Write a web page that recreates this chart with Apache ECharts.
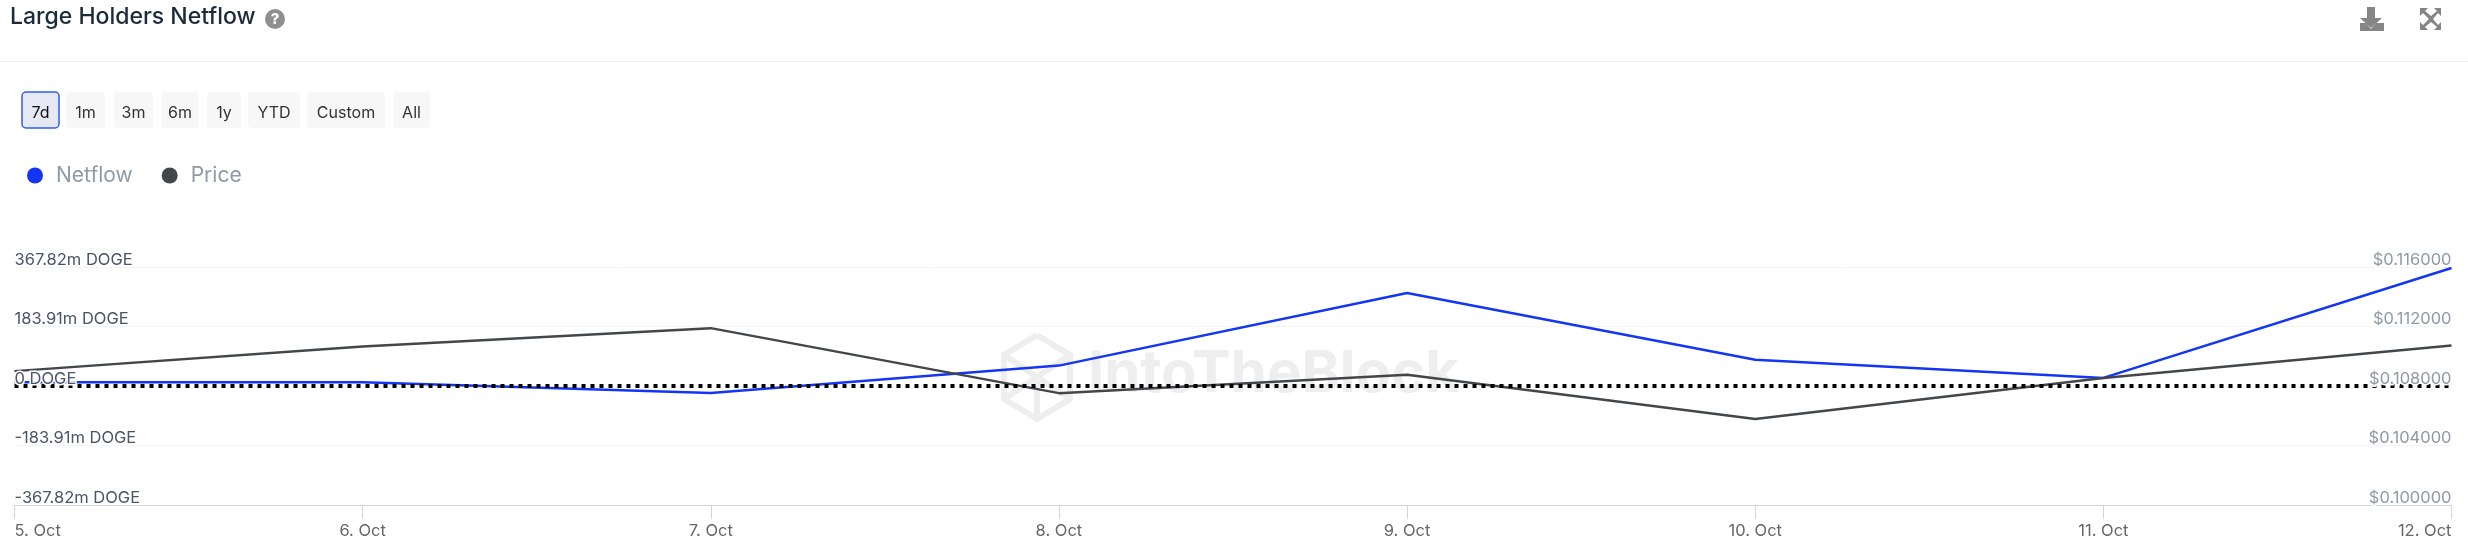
<!DOCTYPE html>
<html>
<head>
<meta charset="utf-8">
<title>Large Holders Netflow</title>
<script src="https://cdn.jsdelivr.net/npm/echarts@6/dist/echarts.min.js"></script>
<style>
	html, body { margin: 0; padding: 0; background: #fff; }
	#chart { width: 2468px; height: 544px; }
</style>
</head>
<body>
<div id="chart"></div>
<script>
	const days = ['5. Oct', '6. Oct', '7. Oct', '8. Oct', '9. Oct', '10. Oct', '11. Oct', '12. Oct'];
	// millions of DOGE
	const netflow = [11.7, 11.7, -21.6, 63, 287.6, 81, 25, 364.7];
	const price = [0.1090, 0.11065, 0.11189, 0.10752, 0.10875, 0.10578, 0.10853, 0.11072];
	const ranges = ['7d', '1m', '3m', '6m', '1y', 'YTD', 'Custom', 'All'];
	const rangeBoxes = [[22, 37], [66, 39], [114, 39], [161, 38], [207, 34], [248, 52], [307, 78], [393, 37]];
	const font = 'Inter, "Noto Sans", sans-serif';

	const chart = echarts.init(document.getElementById('chart'));

	function poly(points, fill) {
		return { type: 'polygon', shape: { points: points }, style: { fill: fill } };
	}
	function wmLine(points) {
		return { type: 'polyline', z: 1, shape: { points: points }, style: { fill: null, stroke: '#eeeeee', lineWidth: 6 } };
	}

	// header, range buttons, watermark
	const graphics = [
		{ type: 'text', x: 10, y: 6, style: { text: 'Large Holders Netflow', font: '500 23px ' + font, fill: '#1b2b3a' } },
		{ type: 'circle', shape: { cx: 275, cy: 19, r: 10 }, style: { fill: '#8f8f8f' } },
		{ type: 'text', x: 275, y: 19, style: { text: '?', font: '800 15px ' + font, fill: '#fff', align: 'center', verticalAlign: 'middle' } },
		{ type: 'line', shape: { x1: 0, y1: 61.5, x2: 2468, y2: 61.5 }, style: { stroke: '#eeeeee', lineWidth: 1 } },
		// download icon
		poly([[2367, 7], [2375, 7], [2375, 18], [2382, 18], [2371, 28], [2360, 18], [2367, 18]], '#858585'),
		poly([[2360, 23], [2366, 23], [2371, 29], [2376, 23], [2384, 23], [2384, 31], [2360, 31]], '#858585'),
		// expand icon
		poly([[2420, 8], [2428, 8], [2425, 11], [2431, 16], [2437, 11], [2434, 8], [2441, 8], [2441, 16], [2438, 13], [2433, 19], [2438, 25], [2441, 22], [2441, 30], [2434, 30], [2437, 27], [2431, 22], [2425, 27], [2428, 30], [2420, 30], [2420, 22], [2423, 25], [2429, 19], [2423, 13], [2420, 16]], '#858585'),
		// watermark
		wmLine([[1037, 335], [1070, 355], [1070, 399], [1037, 419], [1004, 399], [1004, 355], [1037, 335]]),
		wmLine([[1004, 355], [1037, 377], [1070, 355]]),
		wmLine([[1004, 399], [1037, 377], [1070, 399]]),
		wmLine([[1037, 377], [1037, 419]]),
		{ type: 'text', z: 1, x: 1088, y: 346, style: { text: 'IntoTheBlock', font: '700 58px ' + font, fill: '#eeeeee' } }
	];
	ranges.forEach(function(label, i) {
		const box = rangeBoxes[i];
		const active = i === 0;
		graphics.push({
			type: 'rect',
			shape: { x: box[0], y: 92, width: box[1], height: 36, r: 4 },
			style: { fill: active ? '#e6e9f4' : '#f7f7f7', stroke: active ? '#2f5cf5' : null, lineWidth: active ? 1.5 : 0 }
		});
		graphics.push({
			type: 'text',
			x: box[0] + box[1] / 2,
			y: 113,
			style: { text: label, font: '400 16px ' + font, fill: active ? '#111' : '#333', align: 'center', verticalAlign: 'middle' }
		});
	});

	chart.setOption({
		animation: false,
		backgroundColor: '#fff',
		textStyle: { fontFamily: font },
		legend: {
			left: 22,
			top: 160,
			icon: 'circle',
			itemWidth: 16,
			itemHeight: 16,
			itemGap: 29,
			selectedMode: false,
			textStyle: { color: '#8f9aa5', fontSize: 21, fontFamily: font, padding: [0, 0, 0, 8] },
			data: ['Netflow', 'Price']
		},
		grid: { left: 14.5, right: 16.5, top: 267, bottom: 39, containLabel: false },
		xAxis: {
			type: 'category',
			boundaryGap: false,
			data: days,
			axisLine: { onZero: false, lineStyle: { color: '#ccd6eb', width: 1 } },
			axisTick: { show: true, length: 14, alignWithLabel: true, lineStyle: { color: '#ccd6eb' } },
			axisLabel: {
				color: '#666',
				fontSize: 16.5,
				fontFamily: font,
				margin: 18,
				interval: 0,
				alignMinLabel: 'left',
				alignMaxLabel: 'right'
			}
		},
		yAxis: [
			{
				type: 'value',
				min: -367.82,
				max: 367.82,
				interval: 183.91,
				z: 5,
				axisLine: { show: false },
				axisTick: { show: false },
				splitLine: { show: false },
				axisLabel: {
					inside: true,
					color: '#4a5568',
					fontSize: 16.5,
					lineHeight: 14,
					fontFamily: font,
					verticalAlign: 'bottom',
					margin: 0,
					textBorderColor: '#fff',
					textBorderWidth: 3,
					formatter: function(v) {
						return Math.abs(v) < 0.001 ? '0 DOGE' : v.toFixed(2) + 'm DOGE';
					}
				}
			},
			{
				type: 'value',
				position: 'right',
				min: 0.1,
				max: 0.116,
				interval: 0.004,
				z: 5,
				axisLine: { show: false },
				axisTick: { show: false },
				splitLine: { show: false },
				axisLabel: {
					inside: true,
					color: '#8f9aa5',
					fontSize: 16.5,
					lineHeight: 14,
					fontFamily: font,
					verticalAlign: 'bottom',
					margin: 0,
					textBorderColor: '#fff',
					textBorderWidth: 3,
					formatter: function(v) {
						return '$' + v.toFixed(6);
					}
				}
			},
			// gridlines only, kept under the lines
			{
				type: 'value',
				min: -367.82,
				max: 367.82,
				interval: 183.91,
				axisLine: { show: false },
				axisTick: { show: false },
				axisLabel: { show: false },
				splitLine: { lineStyle: { color: '#f4f4f4', width: 1 } }
			}
		],
		series: [
			{
				name: 'Netflow',
				type: 'line',
				data: netflow,
				yAxisIndex: 0,
				z: 3,
				color: '#1336f5',
				symbol: 'none',
				lineStyle: { width: 2.5, color: '#1336f5' },
				markLine: {
					silent: true,
					symbol: 'none',
					z: 4,
					label: { show: false },
					lineStyle: { color: '#000', type: [4, 5], width: 4 },
					data: [{ yAxis: 0 }]
				}
			},
			{
				name: 'Price',
				type: 'line',
				data: price,
				yAxisIndex: 1,
				z: 3,
				color: '#43464b',
				symbol: 'none',
				lineStyle: { width: 2.5, color: '#43464b' }
			}
		],
		graphic: graphics
	});
</script>
</body>
</html>
